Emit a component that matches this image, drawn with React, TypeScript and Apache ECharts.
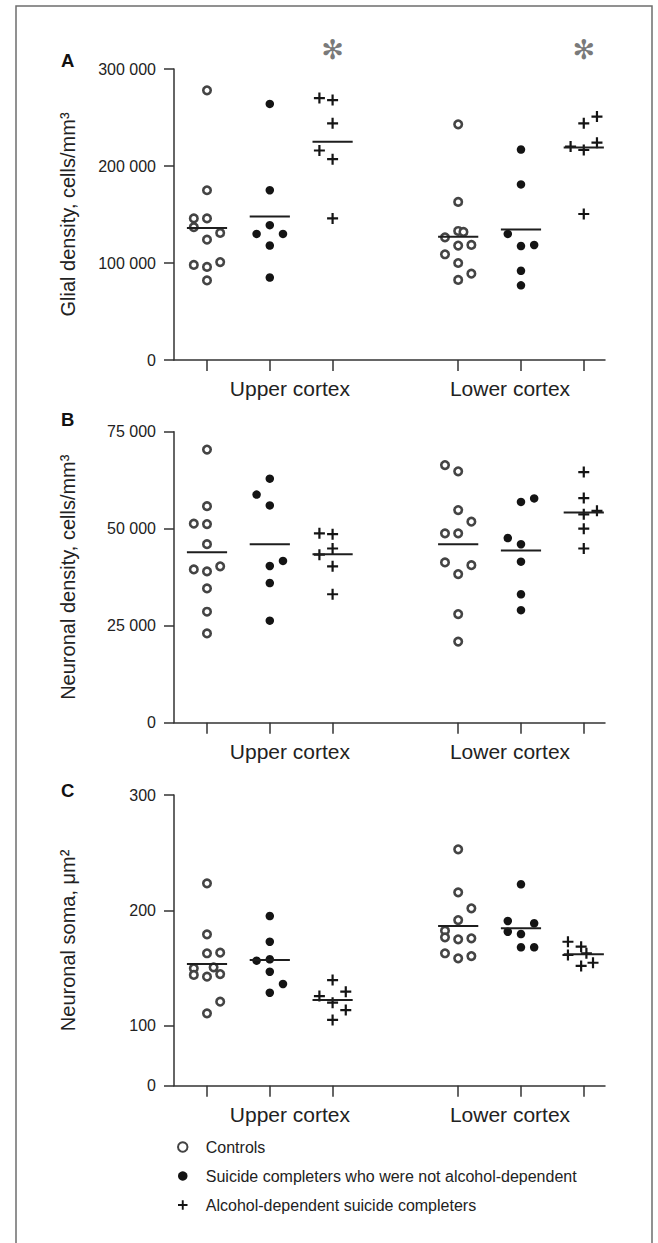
import React, { useEffect, useRef } from 'react';
import * as echarts from 'echarts';

// ---------- data ----------
const categories = ['Upper cortex', 'Lower cortex'];
const categoryCenters = [2.32, 5.825];
const groupTicks = [1, 2, 3, 5, 6, 7];
const seriesNames = [
  'Controls',
  'Suicide completers who were not alcohol-dependent',
  'Alcohol-dependent suicide completers',
];

// Panel A: glial density (thousand cells/mm3): [value, jitter column]
const glialControlsUpper = [[278, 0], [175, 0], [146, -1], [146, 0], [137, -1], [131, 1], [124, 0], [98, -1], [96, 0], [101, 1], [82, 0]];
const glialSuicideUpper = [[264, 0], [175, 0], [139, 0], [130, -1], [130, 1], [118, 0], [85, 0]];
const glialAlcoholUpper = [[270, -1], [268, 0], [244, 0], [216, -1], [207, 0], [146, 0]];
const glialControlsLower = [[243, 0], [163, 0], [133, 0], [132, 0.4], [126.5, -1], [118, 0], [118.6, 1], [109, -1], [100, 0], [89, 1], [82.5, 0]];
const glialSuicideLower = [[217, 0], [181, 0], [130, -1], [117.5, 0], [118.6, 1], [92, 0], [77, 0]];
const glialAlcoholLower = [[251, 1], [244, 0], [220, -1], [216.5, 0], [224, 1], [150.5, 0]];
const glialMeans = [136, 148, 225, 127, 134.5, 219];
const glialSignificant = [3, 7];
const glialAsteriskLevel = 320;

// Panel B: neuronal density (thousand cells/mm3)
const neuronControlsUpper = [[70.4, 0], [55.8, 0], [51.3, -1], [51.2, 0], [46, 0], [39.5, -1], [39, 0], [40.3, 1], [34.6, 0], [28.6, 0], [23, 0]];
const neuronSuicideUpper = [[62.9, 0], [58.8, -1], [56, 0], [40.4, 0], [41.7, 1], [36, 0], [26.3, 0]];
const neuronAlcoholUpper = [[48.8, -1], [48.6, 0], [44.9, 0], [43.3, -1], [40.3, 0], [33.1, 0]];
const neuronControlsLower = [[66.4, -1], [64.8, 0], [54.8, 0], [51.8, 1], [48.8, -1], [48.8, 0], [41.3, -1], [40.6, 1], [38.3, 0], [28, 0], [20.9, 0]];
const neuronSuicideLower = [[56.9, 0], [57.8, 1], [47.6, -1], [46, 0], [41.5, 0], [33.1, 0], [29, 0]];
const neuronAlcoholLower = [[64.6, 0], [57.9, 0], [53.7, 0], [54.6, 1], [50, 0], [44.9, 0]];
const neuronMeans = [43.9, 46, 43.4, 46, 44.4, 54.2];

// Panel C: neuronal soma (µm2)
const somaControlsUpper = [[223.4, 0], [179.2, 0], [162.8, 0], [163.3, 1], [149.8, -1], [144, -1], [142.5, 0], [150.6, 0.5], [144.8, 1], [120.8, 1], [110.7, 0]];
const somaSuicideUpper = [[195.1, 0], [172.8, 0], [156.4, -1], [157.6, 0], [146.8, 0], [136.2, 1], [128.6, 0]];
const somaAlcoholUpper = [[139.6, 0], [125.7, -1], [129.5, 1], [120, 0], [113.6, 1], [105, 0]];
const somaControlsLower = [[252.9, 0], [215.6, 0], [201.8, 1], [191.6, 0], [182.4, -1], [176.6, -1], [174.9, 0], [175.8, 1], [162.8, -1], [158.4, 0], [160.4, 1]];
const somaSuicideLower = [[222.6, 0], [190.8, -1], [188.8, 1], [181.5, -1], [179.5, 0], [168, 0], [168, 1]];
const somaAlcoholLower = [[172.8, -1.2], [168.5, -0.2], [161.3, -1.2], [162.8, 0.2], [151.8, -0.2], [154.6, 0.7]];
const somaMeans = [153.5, 157, 122.3, 186.4, 184.4, 161.9];
// the soma axis is drawn with a compressed 0-100 segment: its bottom is labelled 0
const somaAxisFloor = 48;
const somaTicks = [48, 100, 200, 300];

// ---------- styling ----------
const FONT = "'Liberation Sans', Arial, Helvetica, sans-serif";
const INK = '#222';
const JITTER = 0.21;
const MEAN_HALF = 0.32;
const PLUS = 'path://M4,0H6V4H10V6H6V10H4V6H0V4H4Z';

const markerStyles = [
  { symbol: 'circle', symbolSize: 7.5, itemStyle: { color: '#ffffff', borderColor: '#444444', borderWidth: 2.6, opacity: 1 } },
  { symbol: 'circle', symbolSize: 8.5, itemStyle: { color: '#141414', borderWidth: 0, opacity: 1 } },
  { symbol: PLUS, symbolSize: 11, itemStyle: { color: '#141414', borderWidth: 0, opacity: 1 } },
];

const fmtSpace = (v: number) => String(Math.round(v)).replace(/\B(?=(\d{3})+(?!\d))/g, ' ');

type Panel = {
  groups: number[][][][];
  means: number[];
  scale: number;
};

const panels: Panel[] = [
  {
    groups: [
      [glialControlsUpper, glialControlsLower],
      [glialSuicideUpper, glialSuicideLower],
      [glialAlcoholUpper, glialAlcoholLower],
    ],
    means: glialMeans,
    scale: 1000,
  },
  {
    groups: [
      [neuronControlsUpper, neuronControlsLower],
      [neuronSuicideUpper, neuronSuicideLower],
      [neuronAlcoholUpper, neuronAlcoholLower],
    ],
    means: neuronMeans,
    scale: 1000,
  },
  {
    groups: [
      [somaControlsUpper, somaControlsLower],
      [somaSuicideUpper, somaSuicideLower],
      [somaAlcoholUpper, somaAlcoholLower],
    ],
    means: somaMeans,
    scale: 1,
  },
];

const gridBoxes = [
  { left: 174, top: 69, width: 431, height: 291 },
  { left: 174, top: 431.7, width: 431, height: 291 },
  { left: 174, top: 795, width: 431, height: 290.7 },
];

const axisLineStyle = { color: '#333', width: 1.5 };

function buildOption() {
  const series: any[] = [];
  panels.forEach((p, pi) => {
    p.groups.forEach((halves, g) => {
      const data: number[][] = [];
      halves.forEach((pts, h) => {
        const pos = groupTicks[g + h * 3];
        pts.forEach(([v, col]) => data.push([pos + col * JITTER, v * p.scale]));
      });
      series.push({
        type: 'scatter',
        name: seriesNames[g],
        xAxisIndex: pi,
        yAxisIndex: pi,
        data,
        ...markerStyles[g],
        z: 2,
        silent: true,
        clip: false,
      });
    });
    series.push({
      type: 'custom',
      name: 'Group mean',
      xAxisIndex: pi,
      yAxisIndex: pi,
      data: p.means.map((m, k) => [groupTicks[k], m * p.scale]),
      z: 5,
      silent: true,
      renderItem: (params: any, api: any) => {
        const x = api.value(0);
        const y = api.value(1);
        const a = api.coord([x - MEAN_HALF, y]);
        const b = api.coord([x + MEAN_HALF, y]);
        return {
          type: 'line',
          shape: { x1: a[0], y1: a[1], x2: b[0], y2: b[1] },
          style: { stroke: '#1e1e1e', lineWidth: 2 },
        };
      },
    });
  });
  series.push({
    type: 'scatter',
    name: 'Significance',
    xAxisIndex: 0,
    yAxisIndex: 0,
    data: glialSignificant.map((x) => [x, glialAsteriskLevel * 1000]),
    symbol: 'circle',
    symbolSize: 1,
    itemStyle: { color: 'transparent', opacity: 1 },
    clip: false,
    silent: true,
    z: 6,
    label: {
      show: true,
      position: 'inside',
      formatter: '\u273B',
      fontSize: 27,
      color: '#7a7a7a',
      fontFamily: "'DejaVu Sans', sans-serif",
    },
  });

  const xAxis = gridBoxes.map((_, i) => ({
    type: 'value',
    gridIndex: i,
    min: 0.4745,
    max: 7.338,
    axisLine: { show: true, onZero: false, lineStyle: axisLineStyle },
    axisTick: { show: true, inside: false, length: 11, customValues: groupTicks, lineStyle: axisLineStyle },
    axisLabel: {
      show: true,
      customValues: categoryCenters,
      formatter: (v: number) => (v < 4 ? categories[0] : categories[1]),
      fontSize: 21,
      margin: 18,
      color: INK,
      fontFamily: FONT,
    },
    splitLine: { show: false },
  }));

  const yCommon = {
    type: 'value',
    nameLocation: 'middle',
    nameGap: 96,
    nameRotate: 90,
    nameMoveOverlap: false,
    nameTextStyle: { fontSize: 20, color: INK, fontFamily: FONT },
    axisLine: { show: true, onZero: false, lineStyle: axisLineStyle },
    axisTick: { show: true, inside: false, length: 10, lineStyle: axisLineStyle },
    splitLine: { show: false },
  };
  const labelCommon = { fontSize: 16, margin: 18, color: INK, fontFamily: FONT };

  const yAxis = [
    {
      ...yCommon,
      gridIndex: 0,
      name: 'Glial density, cells/mm\u00B3',
      min: 0,
      max: 300000,
      interval: 100000,
      axisLabel: { ...labelCommon, formatter: fmtSpace },
    },
    {
      ...yCommon,
      gridIndex: 1,
      name: 'Neuronal density, cells/mm\u00B3',
      min: 0,
      max: 75000,
      interval: 25000,
      axisLabel: { ...labelCommon, formatter: fmtSpace },
    },
    {
      ...yCommon,
      gridIndex: 2,
      name: 'Neuronal soma, \u03BCm\u00B2',
      min: somaAxisFloor,
      max: 300,
      axisTick: { ...yCommon.axisTick, customValues: somaTicks },
      axisLabel: {
        ...labelCommon,
        customValues: somaTicks,
        formatter: (v: number) => (v === somaAxisFloor ? '0' : String(v)),
      },
    },
  ];

  const panelLetters = [
    { t: 'A', y: 60 },
    { t: 'B', y: 419 },
    { t: 'C', y: 790 },
  ];

  return {
    animation: false,
    backgroundColor: '#ffffff',
    textStyle: { fontFamily: FONT },
    grid: gridBoxes.map((b) => ({ ...b, containLabel: false, outerBoundsMode: 'none' })),
    xAxis,
    yAxis,
    legend: {
      show: true,
      orient: 'vertical',
      left: 172,
      top: 1134,
      itemWidth: 36,
      itemHeight: 9.5,
      itemGap: 13,
      selectedMode: false,
      data: seriesNames,
      itemStyle: { opacity: 1 },
      textStyle: { fontSize: 16, color: INK, fontFamily: FONT },
    },
    graphic: [
      {
        type: 'rect',
        shape: { x: 16, y: 6, width: 636, height: 1262 },
        style: { fill: 'none', stroke: '#6e6e6e', lineWidth: 1.5 },
        silent: true,
      },
      ...panelLetters.map((l) => ({
        type: 'text',
        x: 61,
        y: l.y,
        style: {
          text: l.t,
          fontSize: 18.5,
          fontWeight: 'bold',
          fontFamily: FONT,
          fill: '#111',
          verticalAlign: 'middle',
          align: 'left',
        },
        silent: true,
      })),
    ],
    series,
  };
}

export default function App() {
  const ref = useRef<HTMLDivElement>(null);
  useEffect(() => {
    if (!ref.current) return;
    const chart = echarts.init(ref.current, undefined, { renderer: 'svg' });
    chart.setOption(buildOption() as any);
    return () => chart.dispose();
  }, []);
  return (
    <div
      ref={ref}
      style={{ position: 'absolute', left: 0, top: 0, width: 658, height: 1243, background: '#fff' }}
    />
  );
}
